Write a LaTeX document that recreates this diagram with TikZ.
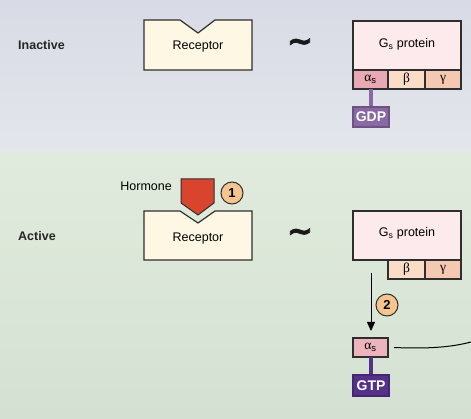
\documentclass[tikz,border=0pt]{standalone}
\usepackage{fontspec}
\setmainfont{Liberation Sans}
\newfontfamily\grk{Liberation Serif}
\newfontfamily\dejab{DejaVu Sans Bold}[FakeBold=2]
\usetikzlibrary{arrows.meta}
\definecolor{topA}{HTML}{D8DBE5}
\definecolor{topB}{HTML}{E4E6EC}
\definecolor{botA}{HTML}{E1EBDD}
\definecolor{botB}{HTML}{D4E1D2}
\definecolor{recfill}{HTML}{FDF7E4}
\definecolor{gsfill}{HTML}{FCEAEC}
\definecolor{alfill}{HTML}{E8A8B4}
\definecolor{alfillB}{HTML}{EDB4BE}
\definecolor{befill}{HTML}{FBDCC6}
\definecolor{gafill}{HTML}{F5C8B2}
\definecolor{gdpc}{HTML}{8A68A3}
\definecolor{gtpc}{HTML}{55318A}
\definecolor{hormc}{HTML}{D8442E}
\definecolor{circc}{HTML}{F6C48F}
\definecolor{outl}{HTML}{2E2E2E}
\tikzset{
  box/.style={draw=outl, line width=1.2pt, inner sep=0pt, outer sep=0pt},
  lbl/.style={font=\fontsize{12.5}{14}\selectfont, inner sep=0pt},
  blbl/.style={font=\fontsize{12.5}{14}\selectfont\bfseries, inner sep=0pt, text=black!85},
  nuc/.style={box, text=white, font=\fontsize{14}{16}\selectfont\bfseries},
  sub/.style={box, font=\fontsize{13.5}{15}\selectfont\grk},
  stepnum/.style={circle, draw=outl, line width=1pt, fill=circc, minimum size=22pt, inner sep=0pt, font=\fontsize{13}{15}\selectfont\bfseries},
  tilde/.style={font=\fontsize{31}{31}\selectfont\dejab, inner sep=0pt, text=black!90},
}
\begin{document}
\begin{tikzpicture}[x=1pt, y=-1pt]
\useasboundingbox (0,0) rectangle (471,419);
% backgrounds
\fill[top color=topA, bottom color=topB] (0,0) rectangle (471,153);
\fill[top color=botA, bottom color=botB] (0,153) rectangle (471,419);

% ---------- Inactive ----------
\node[blbl, anchor=west] (inact) at (18,45) {Inactive};
\draw[box, fill=recfill] (144,20) -- (180,20) -- (198,33) -- (215,20) -- (252,20) -- (252,70) -- (144,70) -- cycle;
\node[lbl] (rec1) at (198,47) {Receptor};
\node[tilde] (t1) at (300,45) {\textasciitilde};
\node[box, fill=gsfill, minimum width=108pt, minimum height=49pt] (gs1) at (407,45.5) {};
\node[lbl] (gs1t) at (407,44) {G\textsubscript{s} protein};
\node[sub, fill=alfill, minimum width=35pt, minimum height=19pt] (al1) at (370.5,79.5) {α\textsubscript{\fontspec{Liberation Sans}s}};
\node[sub, fill=befill, minimum width=37pt, minimum height=19pt] (be1) at (406.5,79.5) {β};
\node[sub, fill=gafill, minimum width=36pt, minimum height=19pt] (ga1) at (443,79.5) {γ};
\fill[gdpc] (368.5,89) rectangle (373,108);
\node[nuc, fill=gdpc, draw=gdpc!80!black, minimum width=36pt, minimum height=20pt] (gdp) at (371,117) {GDP};

% ---------- Active ----------
\node[blbl, anchor=west] (act) at (18,236) {Active};
\draw[box, fill=recfill] (144,211) -- (180,211) -- (198,223) -- (215,211) -- (252,211) -- (252,260) -- (144,260) -- cycle;
\node[lbl] (rec2) at (198,238) {Receptor};
\draw[draw=outl, line width=1pt, fill=hormc] (181,179) -- (214,179) -- (214,203) -- (198,215) -- (181,203) -- cycle;
\node[lbl, anchor=east] (horm) at (172,186) {Hormone};
\node[stepnum] (n1) at (232,193) {1};
\node[tilde] (t2) at (300,235) {\textasciitilde};
\node[box, fill=gsfill, minimum width=108pt, minimum height=49pt] (gs2) at (407,235.5) {};
\node[lbl] (gs2t) at (407,233) {G\textsubscript{s} protein};
\node[sub, fill=befill, minimum width=37pt, minimum height=19pt] (be2) at (406.5,269.5) {β};
\node[sub, fill=gafill, minimum width=36pt, minimum height=19pt] (ga2) at (443,269.5) {γ};
\node[sub, fill=alfillB, minimum width=35pt, minimum height=19pt] (al2) at (370.5,347.5) {α\textsubscript{\fontspec{Liberation Sans}s}};
\fill[gtpc] (368.5,357) rectangle (373,376);
\node[nuc, fill=gtpc, draw=gtpc!80!black, minimum width=36pt, minimum height=21pt] (gtp) at (371,385.5) {GTP};
\coordinate (a2) at (371,273);
\draw[line width=1pt, -{Triangle[width=8pt,length=9pt]}, shorten >=7pt] (a2) -- (al2.north -| a2);
\node[stepnum] (n2) at (387,305) {2};
\coordinate (rend) at (471,342);
\draw[line width=1pt] ([xshift=6pt]al2.east) .. controls (430,349) and (452,347) .. (rend);
\end{tikzpicture}
\end{document}
